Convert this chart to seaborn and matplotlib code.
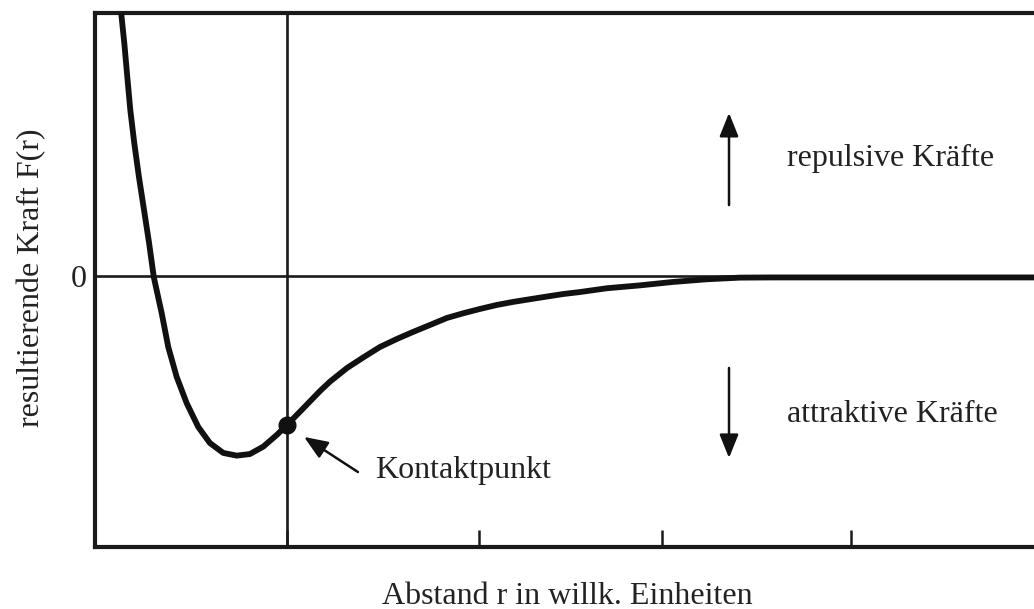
import matplotlib
matplotlib.use("Agg")
import matplotlib.pyplot as plt
import seaborn as sns
import pandas as pd

# Distance r (arbitrary units) and resulting force F(r) along the curve
r_values = [0.135, 0.156, 0.172, 0.188, 0.209, 0.234, 0.261, 0.288, 0.313,
            0.355, 0.390, 0.435, 0.488, 0.550, 0.612, 0.683, 0.755, 0.825,
            0.896, 0.968, 1.020, 1.109, 1.198, 1.251, 1.342, 1.429, 1.518,
            1.607, 1.693, 1.784, 1.874, 1.961, 2.050, 2.139, 2.226, 2.316,
            2.407, 2.494, 2.583, 2.726, 2.902, 3.078, 3.259, 3.435, 3.610,
            4.286, 5.100]
force_values = [1.506, 1.294, 1.106, 0.922, 0.739, 0.550, 0.367, 0.183,
                -0.006, -0.206, -0.394, -0.561, -0.706, -0.839, -0.928,
                -0.983, -0.998, -0.989, -0.948, -0.883, -0.830, -0.735,
                -0.639, -0.587, -0.511, -0.452, -0.394, -0.350, -0.311,
                -0.272, -0.233, -0.207, -0.183, -0.161, -0.144, -0.129,
                -0.114, -0.100, -0.089, -0.068, -0.052, -0.033, -0.018,
                -0.009, -0.008, -0.008, -0.008]

contact_r = [1.020]
contact_force = [-0.830]

x_ticks = [1.020, 2.045, 3.019, 4.026]
y_ticks = [0]
y_tick_labels = ["0"]

x_label = "Abstand r in willk. Einheiten"
y_label = "resultierende Kraft F(r)"
label_repulsive = "repulsive Kräfte"
label_attractive = "attraktive Kräfte"
label_contact = "Kontaktpunkt"

FS = 23
INK = "#1a1a1a"
TEXT = "#222222"

sns.set_theme(style="white")
plt.rcParams["font.family"] = ["Liberation Serif", "DejaVu Serif"]

df = pd.DataFrame({"r": r_values, "F": force_values})

fig = plt.figure(figsize=(10.34, 6.09), dpi=100)
ax = fig.add_axes([95 / 1034, 62 / 609, 941 / 1034, 534 / 609])

ax.set_xlim(0, 941 / 187.8)
ax.set_ylim(-271 / 180, 263 / 180)

# Reference lines: zero force and contact distance
ax.axhline(0, color=INK, lw=1.9, zorder=1)
ax.axvline(contact_r[0], color=INK, lw=1.9, zorder=1)

sns.lineplot(data=df, x="r", y="F", sort=False, color="#111111", lw=4.2,
             ax=ax, zorder=3, solid_joinstyle="round", solid_capstyle="round")
ax.plot(contact_r, contact_force, "o", color="#111111", ms=12, zorder=4)

# Spines and ticks
for side in ["left", "top", "bottom"]:
    ax.spines[side].set_linewidth(3.0)
    ax.spines[side].set_color(INK)
ax.spines["right"].set_visible(False)

ax.set_xticks(x_ticks)
ax.set_xticklabels([])
ax.tick_params(axis="x", direction="in", length=12.5, width=1.8,
               color=INK, bottom=True)
ax.set_yticks(y_ticks)
ax.set_yticklabels(y_tick_labels)
ax.tick_params(axis="y", length=0, pad=6, labelsize=FS, labelcolor=TEXT)

ax.set_xlabel(x_label, fontsize=FS, color=TEXT, va="baseline")
ax.xaxis.set_label_coords(0.502, -0.1067)
ax.set_ylabel(y_label, fontsize=FS, color=TEXT, va="baseline")
ax.yaxis.set_label_coords(-0.0595, 0.5037)

# Direction arrows and labels
arrow_kw = dict(arrowstyle="-|>,head_length=0.72,head_width=0.29",
                mutation_scale=20, color="#111111", lw=1.8,
                shrinkA=0, shrinkB=0)
ax.annotate("", xy=(3.376, 0.906), xytext=(3.376, 0.394),
            arrowprops=arrow_kw)
ax.annotate("", xy=(3.376, -1.011), xytext=(3.376, -0.511),
            arrowprops=arrow_kw)
ax.text(3.685, 0.655, label_repulsive, fontsize=FS, color=TEXT,
        va="center", ha="left")
ax.text(3.685, -0.772, label_attractive, fontsize=FS, color=TEXT,
        va="center", ha="left")

# Contact point label with pointer
ax.annotate("", xy=(1.113, -0.894), xytext=(1.400, -1.089),
            arrowprops=arrow_kw)
ax.text(1.491, -1.078, label_contact, fontsize=FS, color=TEXT,
        va="center", ha="left")

fig.savefig("out.png", dpi=100)
